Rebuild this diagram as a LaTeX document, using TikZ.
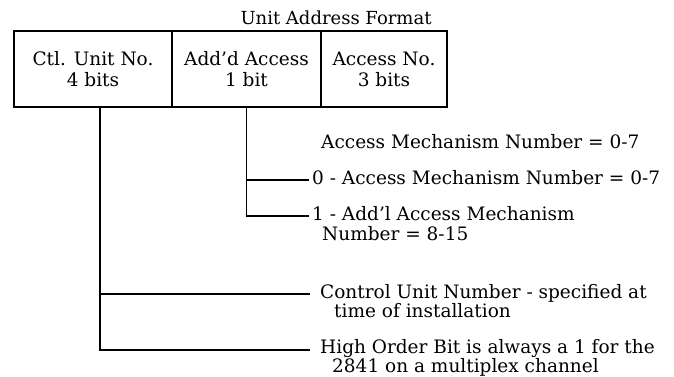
\documentclass[tikz,border=0pt]{standalone}
\usepackage{fontspec}
\setmainfont{DejaVu Serif}
\usepackage{tikz}
\usetikzlibrary{positioning,calc}

\begin{document}
\begin{tikzpicture}[
  x=1pt, y=-1pt,
  cell/.style={draw,line width=1.1pt,minimum height=76pt,inner sep=0pt,align=center,font=\fontsize{18.5}{21}\selectfont},
  note/.style={anchor=north west,inner sep=0pt,align=left,font=\fontsize{18.5}{17.5}\selectfont},
  lead/.style={line width=1.1pt}
]
  \useasboundingbox (0,0) rectangle (674,377);

  % Title and address format boxes
  \node[font=\fontsize{18}{18}\selectfont,anchor=base] (title) at (336,25) {Unit Address Format};
  \node[cell,minimum width=158pt] (ctl)   at (93,69)    {Ctl. Unit No.\\4 bits};
  \node[cell,minimum width=149pt] (addd)  at (246.5,69) {Add'd Access\\1 bit};
  \node[cell,minimum width=126pt] (accno) at (384,69)   {Access No.\\3 bits};

  % Explanations
  \node[note] (accmech) at (321,134) {Access Mechanism Number = 0-7};
  \node[note] (zero)    at (312,170) {0 - Access Mechanism Number = 0-7};
  \node[note,font=\fontsize{18.5}{20}\selectfont] (one) at (312,206) {1 - Add'l Access Mechanism\\\hspace*{10pt}Number = 8-15};
  \node[note] (ctlnum)  at (320,284) {Control Unit Number - specified at\\\hspace*{14pt}time of installation};
  \node[note,font=\fontsize{18.5}{16}\selectfont] (high) at (320,339) {High Order Bit is always a 1 for the\\\hspace*{12pt}2841 on a multiplex channel};

  % Leader lines
  \draw[lead] (addd.south) |- ([xshift=-3pt,yshift=-10pt]zero.north west);
  \draw[lead] (addd.south) |- ([xshift=-3pt,yshift=-10pt]one.north west);
  \draw[lead] ([xshift=7pt]ctl.south) |- ([xshift=-10pt,yshift=-10pt]ctlnum.north west);
  \draw[lead] ([xshift=7pt]ctl.south) |- ([xshift=-10pt,yshift=-11pt]high.north west);
\end{tikzpicture}
\end{document}
